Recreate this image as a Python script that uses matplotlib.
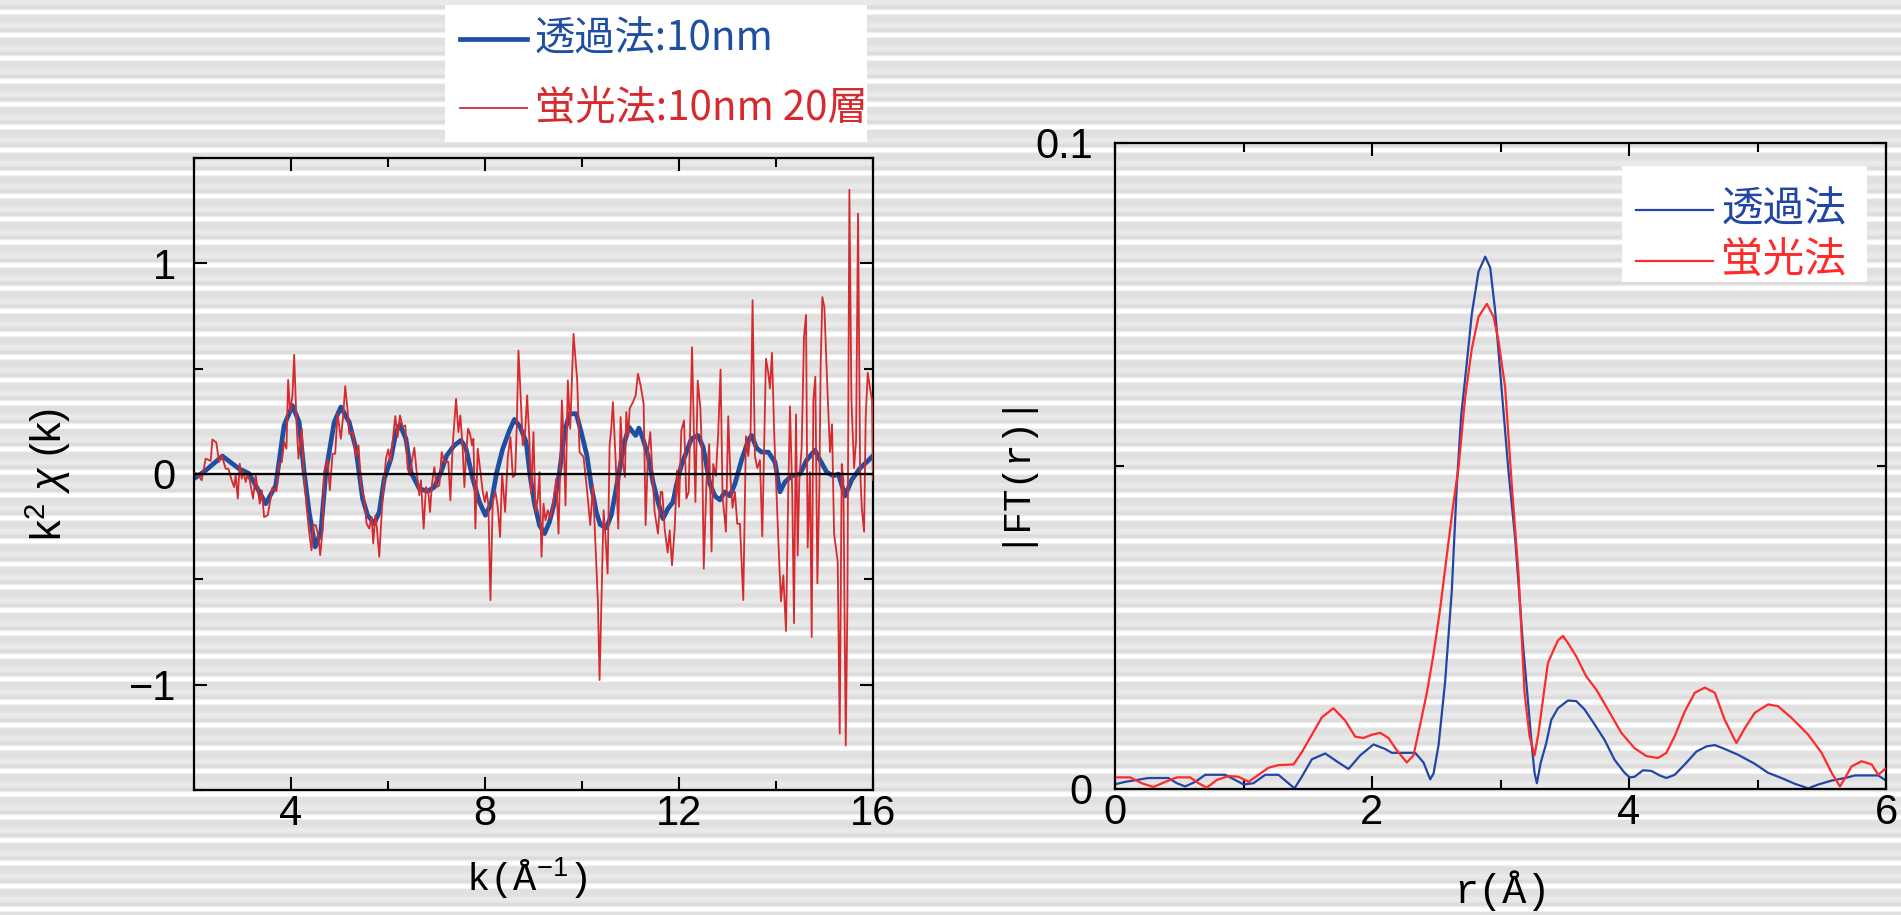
import numpy as np
import matplotlib
matplotlib.use('Agg')
import matplotlib.pyplot as plt
from matplotlib.lines import Line2D
from matplotlib.patches import Rectangle

# ---- k-space data (transmission: smooth, fluorescence: noisy) ----
k_trans = [2.000, 2.241, 2.585, 2.929, 3.136, 3.480, 3.686, 3.858, 4.030, 4.168,
           4.271, 4.374, 4.498, 4.615, 4.719, 4.891, 5.028, 5.200, 5.338, 5.476,
           5.579, 5.717, 5.820, 5.923, 6.061, 6.164, 6.247, 6.370, 6.474, 6.646,
           6.818, 6.956, 7.093, 7.210, 7.368, 7.506, 7.609, 7.747, 7.885, 8.009,
           8.126, 8.243, 8.366, 8.504, 8.607, 8.724, 8.848, 8.930, 9.020, 9.123,
           9.227, 9.330, 9.433, 9.536, 9.640, 9.743, 9.881, 9.984, 10.101, 10.190,
           10.294, 10.376, 10.500, 10.603, 10.692, 10.789, 10.878, 10.968, 11.050, 11.106,
           11.174, 11.257, 11.360, 11.464, 11.567, 11.670, 11.773, 11.876, 11.945, 12.048,
           12.152, 12.255, 12.393, 12.496, 12.533, 12.636, 12.740, 12.843, 12.946, 13.049,
           13.153, 13.290, 13.428, 13.497, 13.600, 13.703, 13.841, 13.979, 14.082, 14.185,
           14.323, 14.495, 14.632, 14.804, 14.908, 15.045, 15.183, 15.286, 15.424, 15.561,
           15.734, 15.871, 15.995]
chi_trans = [-0.022, 0.017, 0.085, 0.025, 0.002, -0.141, -0.054, 0.231, 0.325, 0.246,
             0.009, -0.180, -0.346, -0.275, 0.009, 0.246, 0.318, 0.246, 0.120, -0.117,
             -0.196, -0.235, -0.180, -0.022, 0.073, 0.199, 0.234, 0.167, 0.009, -0.070,
             -0.082, -0.062, 0.009, 0.088, 0.136, 0.160, 0.120, -0.022, -0.133, -0.196,
             -0.141, 0.009, 0.120, 0.207, 0.259, 0.223, 0.152, -0.010, -0.141, -0.243,
             -0.283, -0.227, -0.133, 0.009, 0.199, 0.286, 0.286, 0.199, 0.088, -0.054,
             -0.180, -0.240, -0.256, -0.196, -0.085, 0.041, 0.152, 0.223, 0.199, 0.183,
             0.218, 0.167, 0.088, -0.038, -0.133, -0.212, -0.164, -0.133, -0.054, 0.041,
             0.104, 0.167, 0.183, 0.128, 0.085, -0.047, -0.104, -0.123, -0.085, -0.104,
             -0.047, 0.066, 0.160, 0.183, 0.123, 0.104, 0.104, 0.057, -0.085, -0.038,
             -0.009, 0.000, 0.066, 0.113, 0.066, 0.009, -0.009, 0.000, -0.104, -0.028,
             0.028, 0.057, 0.085]

k_fluo = [2.000, 2.069, 2.158, 2.241, 2.344, 2.379, 2.461, 2.516, 2.571, 2.654,
          2.709, 2.778, 2.826, 2.860, 2.902, 2.943, 2.984, 3.019, 3.067, 3.101,
          3.149, 3.218, 3.273, 3.356, 3.397, 3.445, 3.521, 3.617, 3.700, 3.755,
          3.810, 3.858, 3.906, 3.941, 3.982, 4.030, 4.065, 4.113, 4.154, 4.223,
          4.264, 4.319, 4.374, 4.423, 4.464, 4.512, 4.560, 4.602, 4.650, 4.684,
          4.753, 4.801, 4.856, 4.911, 4.959, 5.028, 5.076, 5.118, 5.166, 5.200,
          5.269, 5.338, 5.393, 5.441, 5.510, 5.558, 5.613, 5.662, 5.696, 5.737,
          5.772, 5.820, 5.875, 5.923, 5.958, 6.006, 6.047, 6.095, 6.150, 6.198,
          6.247, 6.302, 6.357, 6.405, 6.453, 6.494, 6.543, 6.591, 6.646, 6.680,
          6.735, 6.783, 6.831, 6.866, 6.907, 6.956, 7.004, 7.059, 7.107, 7.162,
          7.210, 7.245, 7.286, 7.334, 7.403, 7.451, 7.492, 7.540, 7.575, 7.609,
          7.651, 7.692, 7.733, 7.761, 7.802, 7.850, 7.898, 7.954, 7.995, 8.036,
          8.070, 8.112, 8.160, 8.215, 8.263, 8.311, 8.353, 8.415, 8.470, 8.525,
          8.573, 8.621, 8.655, 8.690, 8.731, 8.779, 8.827, 8.869, 8.917, 8.951,
          8.999, 9.041, 9.089, 9.123, 9.165, 9.206, 9.247, 9.295, 9.344, 9.399,
          9.468, 9.516, 9.585, 9.626, 9.660, 9.708, 9.757, 9.825, 9.901, 9.949,
          10.032, 10.101, 10.170, 10.225, 10.280, 10.328, 10.362, 10.404, 10.445, 10.486,
          10.528, 10.569, 10.603, 10.638, 10.692, 10.748, 10.796, 10.844, 10.885, 10.913,
          10.954, 10.982, 11.050, 11.106, 11.154, 11.209, 11.271, 11.312, 11.360, 11.408,
          11.450, 11.498, 11.567, 11.622, 11.656, 11.704, 11.766, 11.808, 11.856, 11.911,
          11.959, 12.000, 12.048, 12.104, 12.152, 12.200, 12.269, 12.338, 12.386, 12.441,
          12.482, 12.510, 12.568, 12.623, 12.671, 12.705, 12.760, 12.809, 12.857, 12.898,
          12.967, 13.015, 13.063, 13.104, 13.153, 13.201, 13.256, 13.325, 13.380, 13.428,
          13.476, 13.517, 13.566, 13.614, 13.669, 13.717, 13.751, 13.793, 13.841, 13.875,
          13.917, 13.965, 14.013, 14.061, 14.102, 14.151, 14.206, 14.254, 14.288, 14.336,
          14.371, 14.412, 14.447, 14.481, 14.529, 14.577, 14.619, 14.653, 14.701, 14.736,
          14.770, 14.811, 14.853, 14.894, 14.921, 14.956, 14.997, 15.066, 15.114, 15.155,
          15.197, 15.272, 15.314, 15.355, 15.389, 15.438, 15.472, 15.513, 15.555, 15.610,
          15.651, 15.692, 15.734, 15.768, 15.816, 15.850, 15.892, 15.940, 15.981, 16.000]
chi_fluo = [0.006, 0.002, -0.030, 0.073, 0.062, 0.164, 0.149, 0.057, 0.088, 0.025,
            0.025, -0.030, -0.062, -0.006, -0.117, 0.049, -0.022, 0.013, -0.038, -0.006,
            -0.030, -0.117, -0.006, -0.141, -0.077, -0.204, -0.196, -0.065, -0.081, 0.049,
            0.057, 0.152, 0.120, 0.447, 0.294, 0.373, 0.566, 0.246, 0.073, 0.215,
            0.009, -0.149, -0.275, -0.362, -0.243, -0.243, -0.291, -0.385, -0.267, 0.009,
            0.068, -0.077, 0.096, 0.096, 0.286, 0.167, 0.278, 0.417, 0.302, 0.191,
            0.199, 0.088, 0.136, -0.054, -0.117, -0.235, -0.259, -0.204, -0.330, -0.196,
            -0.259, -0.393, -0.164, -0.022, 0.073, 0.117, 0.057, 0.152, 0.275, 0.175,
            0.278, 0.223, 0.231, 0.025, -0.006, 0.065, 0.125, 0.009, -0.101, -0.030,
            -0.259, -0.062, -0.085, -0.180, -0.046, 0.033, -0.062, -0.054, 0.104, 0.057,
            0.057, 0.057, -0.125, 0.136, 0.357, 0.199, 0.278, 0.120, -0.062, 0.096,
            0.215, 0.191, 0.136, 0.167, -0.259, 0.120, 0.025, -0.085, -0.133, -0.085,
            -0.149, -0.599, -0.125, -0.085, -0.156, -0.299, 0.002, -0.180, 0.081, 0.175,
            -0.014, -0.006, 0.231, 0.586, 0.389, 0.136, 0.199, 0.373, 0.152, -0.093,
            0.199, -0.180, -0.117, 0.009, -0.393, -0.141, -0.220, -0.172, -0.212, -0.149,
            -0.022, -0.283, 0.349, 0.136, -0.149, 0.444, 0.215, 0.665, 0.444, 0.104,
            0.081, -0.070, -0.243, -0.054, -0.346, -0.607, -0.978, -0.575, -0.172, -0.306,
            -0.472, 0.136, 0.215, 0.341, 0.073, -0.259, 0.270, 0.049, -0.014, 0.294,
            0.183, 0.310, 0.341, 0.373, 0.476, 0.420, 0.333, -0.243, 0.104, 0.199,
            0.009, -0.180, -0.283, -0.085, -0.085, -0.259, -0.373, -0.267, -0.433, -0.259,
            0.017, -0.156, 0.207, 0.254, -0.117, -0.085, 0.602, -0.133, 0.444, 0.310,
            0.041, -0.449, -0.028, 0.142, -0.368, 0.047, -0.009, 0.198, 0.496, -0.104,
            -0.274, 0.274, -0.028, -0.160, -0.085, -0.236, -0.236, -0.598, 0.179, 0.085,
            0.198, 0.825, 0.085, 0.028, 0.066, -0.296, 0.085, 0.547, 0.481, 0.406,
            0.575, 0.179, -0.104, -0.387, -0.604, -0.481, -0.745, -0.066, 0.321, -0.104,
            -0.708, 0.283, -0.387, -0.028, 0.123, 0.651, 0.755, -0.349, 0.009, -0.774,
            0.349, 0.462, -0.519, -0.066, 0.519, 0.840, 0.792, 0.368, 0.104, 0.236,
            -0.283, -0.415, -1.232, 0.047, -0.028, -1.289, -0.623, 1.349, 0.349, 0.028,
            0.160, 1.236, 0.028, -0.160, -0.274, 0.274, 0.481, 0.406, 0.349, -0.028]

# ---- r-space data |FT(r)| ----
r_trans = [0.014, 0.079, 0.261, 0.416, 0.481, 0.546, 0.624, 0.702, 0.857, 0.935,
           1.000, 1.078, 1.169, 1.272, 1.337, 1.397, 1.454, 1.532, 1.636, 1.739,
           1.817, 1.908, 2.012, 2.102, 2.154, 2.336, 2.401, 2.453, 2.479, 2.518,
           2.569, 2.621, 2.660, 2.694, 2.738, 2.777, 2.829, 2.881, 2.920, 2.958,
           3.010, 3.062, 3.114, 3.174, 3.213, 3.244, 3.265, 3.283, 3.312, 3.356,
           3.395, 3.447, 3.525, 3.590, 3.655, 3.732, 3.810, 3.888, 3.966, 4.005,
           4.044, 4.109, 4.174, 4.239, 4.291, 4.356, 4.434, 4.525, 4.603, 4.668,
           4.745, 4.849, 4.979, 5.083, 5.187, 5.291, 5.395, 5.473, 5.577, 5.681,
           5.758, 5.862, 5.940, 5.992]
ft_trans = [0.0008, 0.0011, 0.0017, 0.0017, 0.0009, 0.0004, 0.0011, 0.0022, 0.0022, 0.0014,
            0.0007, 0.0009, 0.0022, 0.0022, 0.0011, 0.0001, 0.0019, 0.0046, 0.0055, 0.0041,
            0.0031, 0.0052, 0.0069, 0.0062, 0.0056, 0.0056, 0.0041, 0.0015, 0.0024, 0.0068,
            0.0166, 0.0307, 0.0470, 0.0578, 0.0660, 0.0736, 0.0801, 0.0824, 0.0807, 0.0741,
            0.0616, 0.0492, 0.0388, 0.0226, 0.0138, 0.0066, 0.0025, 0.0009, 0.0040, 0.0071,
            0.0107, 0.0125, 0.0137, 0.0136, 0.0123, 0.0100, 0.0076, 0.0045, 0.0025, 0.0018,
            0.0019, 0.0029, 0.0028, 0.0021, 0.0017, 0.0022, 0.0038, 0.0058, 0.0066, 0.0068,
            0.0062, 0.0053, 0.0039, 0.0025, 0.0017, 0.0008, 0.0001, 0.0007, 0.0013, 0.0017,
            0.0021, 0.0021, 0.0021, 0.0014]

r_fluo = [0.014, 0.117, 0.208, 0.298, 0.390, 0.481, 0.585, 0.650, 0.714, 0.792,
          0.883, 0.961, 1.039, 1.117, 1.195, 1.272, 1.389, 1.454, 1.532, 1.610,
          1.700, 1.791, 1.869, 1.934, 1.999, 2.064, 2.128, 2.193, 2.271, 2.323,
          2.375, 2.427, 2.479, 2.531, 2.582, 2.634, 2.673, 2.725, 2.777, 2.829,
          2.894, 2.946, 2.985, 3.036, 3.088, 3.140, 3.187, 3.226, 3.265, 3.296,
          3.330, 3.369, 3.408, 3.447, 3.486, 3.525, 3.590, 3.668, 3.745, 3.836,
          3.940, 4.044, 4.135, 4.226, 4.291, 4.356, 4.434, 4.512, 4.590, 4.668,
          4.745, 4.836, 4.901, 4.979, 5.083, 5.161, 5.265, 5.395, 5.499, 5.577,
          5.642, 5.681, 5.732, 5.810, 5.888, 5.940, 5.992]
ft_fluo = [0.0018, 0.0018, 0.0009, 0.0003, 0.0011, 0.0018, 0.0018, 0.0009, 0.0002, 0.0014,
           0.0020, 0.0019, 0.0011, 0.0022, 0.0033, 0.0037, 0.0038, 0.0057, 0.0084, 0.0111,
           0.0125, 0.0106, 0.0081, 0.0079, 0.0084, 0.0087, 0.0079, 0.0060, 0.0041, 0.0052,
           0.0100, 0.0149, 0.0209, 0.0280, 0.0361, 0.0443, 0.0497, 0.0606, 0.0682, 0.0731,
           0.0751, 0.0731, 0.0693, 0.0622, 0.0470, 0.0334, 0.0149, 0.0082, 0.0052, 0.0087,
           0.0138, 0.0195, 0.0213, 0.0230, 0.0237, 0.0226, 0.0205, 0.0174, 0.0154, 0.0123,
           0.0087, 0.0063, 0.0051, 0.0048, 0.0056, 0.0082, 0.0120, 0.0149, 0.0157, 0.0149,
           0.0107, 0.0071, 0.0094, 0.0118, 0.0131, 0.0128, 0.0110, 0.0084, 0.0056, 0.0025,
           0.0004, 0.0017, 0.0035, 0.0043, 0.0038, 0.0022, 0.0031]

legend_left = ['透過法:10nm', '蛍光法:10nm 20層']
legend_right = ['透過法', '蛍光法']

BLUE = '#1f4fa0'
RED = '#d62a2e'
BLUE2 = '#2246a6'
RED2 = '#ff2a2a'
CJK = ['Noto Sans CJK JP', 'DejaVu Sans']
MONO = ['Liberation Mono', 'DejaVu Sans Mono']

plt.rcParams['font.family'] = ['Liberation Sans', 'DejaVu Sans']
plt.rcParams['mathtext.fontset'] = 'custom'
plt.rcParams['mathtext.rm'] = 'Liberation Sans'
plt.rcParams['mathtext.it'] = 'Liberation Sans:italic'

W, H = 1901, 915
fig = plt.figure(figsize=(W / 100, H / 100), dpi=100)

# striped grey background
stripe = np.array([255, 255, 255, 242, 226, 224, 224, 224, 224, 224, 226, 228,
                   232, 233, 233, 233, 231, 226, 220, 220, 222, 236, 250]) / 255.0
rows = np.arange(H)
bg = np.repeat(stripe[(rows - 11) % len(stripe)][:, None], W, axis=1)
fig.figimage(bg, xo=0, yo=0, cmap='gray', vmin=0, vmax=1, origin='upper', zorder=-5)


def box(l, t, r, b):
    return [l / W, 1 - b / H, (r - l) / W, (b - t) / H]


def style(ax):
    ax.set_facecolor('none')
    for s in ax.spines.values():
        s.set_linewidth(1.6)
    ax.tick_params(which='both', direction='in', top=True, right=True,
                   width=1.5, labelsize=30)
    ax.tick_params(which='major', length=9.5)
    ax.tick_params(which='minor', length=6.5)


# ---- left: k^2 chi(k) ----
ax1 = fig.add_axes(box(194, 158, 873, 790))
style(ax1)
ax1.plot(k_trans, chi_trans, color=BLUE, lw=3.4, zorder=2)
ax1.plot(k_fluo, chi_fluo, color=RED, lw=1.3, zorder=3)
ax1.axhline(0, color='black', lw=1.7, zorder=4)
ax1.set_xlim(2, 16)
ax1.set_ylim(-1.5, 1.5)
ax1.set_xticks([4, 8, 12, 16])
ax1.set_xticks([2, 6, 10, 14], minor=True)
ax1.set_yticks([-1, 0, 1])
ax1.set_yticks([-1.5, -0.5, 0.5, 1.5], minor=True)
ax1.tick_params(axis='y', pad=13)
ax1.tick_params(axis='x', pad=3)
ax1.set_xlabel('k(Å$^{-1}$)', fontsize=28, family=MONO, va='center')
ax1.xaxis.set_label_coords(0.49, -0.14)
ax1.set_ylabel('k$^2$ $\\chi$ (k)', fontsize=30, va='center')
ax1.yaxis.set_label_coords(-0.215, 0.498)

# ---- right: |FT(r)| ----
ax2 = fig.add_axes(box(1115, 143, 1886, 789))
style(ax2)
ax2.plot(r_trans, ft_trans, color=BLUE2, lw=1.6, zorder=2)
ax2.plot(r_fluo, ft_fluo, color=RED2, lw=1.6, zorder=3)
ax2.set_xlim(0, 6)
ax2.set_ylim(0, 0.1)
ax2.set_xticks([0, 2, 4, 6])
ax2.set_xticks([1, 3, 5], minor=True)
ax2.set_yticks([0, 0.1])
ax2.set_yticklabels(['0', '0.1'])
ax2.set_yticks([0.05], minor=True)
ax2.tick_params(axis='y', pad=16)
ax2.tick_params(axis='x', pad=3)
ax2.set_xlabel('r(Å)', fontsize=29, family=MONO, va='center')
ax2.xaxis.set_label_coords(0.502, -0.158)
ax2.set_ylabel('|FT(r)|', fontsize=27, family=MONO, va='center')
ax2.yaxis.set_label_coords(-0.135, 0.498)


# ---- legends (white boxes, drawn in figure pixels) ----
def legend_box(l, t, r, b, entries, size):
    fig.add_artist(Rectangle((l / W, 1 - b / H), (r - l) / W, (b - t) / H,
                             transform=fig.transFigure, facecolor='white',
                             edgecolor='none', zorder=5))
    for (x0, x1, y, tx, label, color, lw) in entries:
        fig.add_artist(Line2D([x0 / W, x1 / W], [1 - y / H, 1 - y / H],
                              transform=fig.transFigure, color=color, lw=lw, zorder=6))
        fig.text(tx / W, 1 - y / H, label, color=color, fontsize=size,
                 family=CJK, ha='left', va='center', zorder=6)


legend_box(445, 5, 867, 142, [
    (460, 527, 39, 535, legend_left[0], BLUE, 3.4),
    (460, 527, 108, 535, legend_left[1], RED, 1.3),
], 29)
legend_box(1622, 166, 1867, 282, [
    (1636, 1713, 210, 1721, legend_right[0], BLUE2, 1.6),
    (1636, 1713, 261, 1721, legend_right[1], RED2, 1.6),
], 30)

fig.savefig('out.png', dpi=100)
